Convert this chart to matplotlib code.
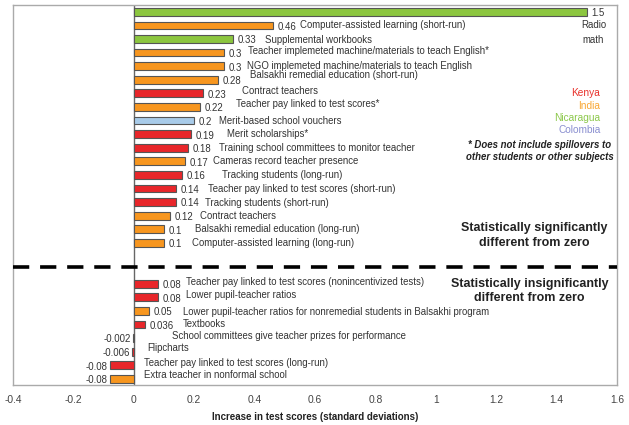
import matplotlib
matplotlib.use("Agg")
import matplotlib.pyplot as plt
import numpy as np

plt.rcParams['font.family'] = ['Liberation Sans', 'DejaVu Sans']

# ---- data ----
sig_programs = [
    "Radio math",
    "Computer-assisted learning (short-run)",
    "Supplemental workbooks",
    "Teacher implemeted machine/materials to teach English*",
    "NGO implemeted machine/materials to teach English",
    "Balsakhi remedial education (short-run)",
    "Contract teachers",
    "Teacher pay linked to test scores*",
    "Merit-based school vouchers",
    "Merit scholarships*",
    "Training school committees to monitor teacher",
    "Cameras record teacher presence",
    "Tracking students (long-run)",
    "Teacher pay linked to test scores (short-run)",
    "Tracking students (short-run)",
    "Contract teachers",
    "Balsakhi remedial education (long-run)",
    "Computer-assisted learning (long-run)",
]
sig_values = [1.5, 0.46, 0.33, 0.3, 0.3, 0.28, 0.23, 0.22, 0.2, 0.19, 0.18,
              0.17, 0.16, 0.14, 0.14, 0.12, 0.1, 0.1]
sig_value_labels = ["1.5", "0.46", "0.33", "0.3", "0.3", "0.28", "0.23", "0.22",
                    "0.2", "0.19", "0.18", "0.17", "0.16", "0.14", "0.14", "0.12",
                    "0.1", "0.1"]
sig_country = ["Nicaragua", "India", "Nicaragua", "India", "India", "India",
               "Kenya", "India", "Colombia", "Kenya", "Kenya", "India", "Kenya",
               "Kenya", "Kenya", "India", "India", "India"]

insig_programs = [
    "Teacher pay linked to test scores (nonincentivized tests)",
    "Lower pupil-teacher ratios",
    "Lower pupil-teacher ratios for nonremedial students in Balsakhi program",
    "Textbooks",
    "School committees give teacher prizes for performance",
    "Flipcharts",
    "Teacher pay linked to test scores (long-run)",
    "Extra teacher in nonformal school",
]
insig_values = [0.08, 0.08, 0.05, 0.036, -0.002, -0.006, -0.08, -0.08]
insig_value_labels = ["0.08", "0.08", "0.05", "0.036", "-0.002", "-0.006", "-0.08", "-0.08"]
insig_country = ["Kenya", "Kenya", "India", "Kenya", "Kenya", "Kenya", "Kenya", "India"]

countries = ["Kenya", "India", "Nicaragua", "Colombia"]
xticks = [-0.4, -0.2, 0, 0.2, 0.4, 0.6, 0.8, 1, 1.2, 1.4, 1.6]
xtick_labels = ["-0.4", "-0.2", "0", "0.2", "0.4", "0.6", "0.8", "1", "1.2", "1.4", "1.6"]

# ---- style ----
bar_colors = {"Kenya": "#e8262a", "India": "#f7961f", "Nicaragua": "#8cc63f",
              "Colombia": "#a8cbe9"}
text_colors = {"Kenya": "#e8302a", "India": "#f9a836", "Nicaragua": "#8cc84b",
               "Colombia": "#8a8fd0"}
# x where each description starts (data units), layout only
sig_desc_x = [None, 0.551, 0.435, 0.379, 0.375, 0.385, 0.359, 0.339, 0.282, 0.309,
              0.282, 0.262, 0.292, 0.246, 0.236, 0.219, 0.203, 0.193]
sig_desc_dy = [0, 0, 0.1, -0.15, 0, -0.35, -0.15, -0.25, 0, 0, 0, 0, 0, 0, 0.1, 0, 0, 0]
insig_desc_x = [0.173, 0.173, 0.163, 0.163, 0.126, 0.043, 0.033, 0.033]
insig_desc_dy = [-0.1, -0.15, 0.1, 0, -0.15, -0.3, -0.2, -0.25]

fig = plt.figure(figsize=(6.29, 4.25), dpi=100)
ax = fig.add_axes([13 / 629, 1 - 385 / 425, (617 - 13) / 629, (385 - 5) / 425])

sig_pos = np.arange(len(sig_values))
insig_pos = np.arange(len(insig_values)) + len(sig_values) + 2

fs = 6.9
edge = "#555555"
ax.barh(sig_pos, sig_values, height=0.57, color=[bar_colors[c] for c in sig_country],
        edgecolor=edge, linewidth=0.8, zorder=3)
ax.barh(insig_pos, insig_values, height=0.57,
        color=[bar_colors[c] for c in insig_country],
        edgecolor=edge, linewidth=0.8, zorder=3)

txt = "#333333"
for i, (v, lab) in enumerate(zip(sig_values, sig_value_labels)):
    ax.text(v + 0.015, sig_pos[i] + 0.1, lab, fontsize=fs, va="center", ha="left", color=txt)
    if sig_desc_x[i] is not None:
        ax.text(sig_desc_x[i], sig_pos[i] + sig_desc_dy[i], sig_programs[i], fontsize=fs,
                va="center", ha="left", color=txt)
# Radio math label
ax.text(1.522, (sig_pos[1] + sig_pos[2]) / 2, "Radio\nmath", fontsize=fs, ha="center",
        va="center", color=txt, linespacing=1.6)

for i, (v, lab) in enumerate(zip(insig_values, insig_value_labels)):
    y = insig_pos[i] + 0.1
    if v >= 0:
        ax.text(v + 0.015, y, lab, fontsize=fs, va="center", ha="left", color=txt)
    else:
        ax.text(v - 0.008, y, lab, fontsize=fs, va="center", ha="right", color=txt)
    ax.text(insig_desc_x[i], insig_pos[i] + insig_desc_dy[i], insig_programs[i],
            fontsize=fs, va="center", ha="left", color=txt)

# legend text
for k, c in enumerate(countries):
    ax.text(1.545, 6 + 0.9 * k, c, fontsize=fs + 0.4, ha="right", va="center",
            color=text_colors[c])

ax.text(1.345, 10.25, "* Does not include spillovers to\nother students or other subjects",
        fontsize=fs, ha="center", va="center", style="italic", weight="bold",
        color="#222222", linespacing=1.3)

ax.text(1.325, 16.45, "Statistically significantly\ndifferent from zero", fontsize=9,
        weight="bold", ha="center", va="center", color="#222222", linespacing=1.25)
ax.text(1.31, 20.55, "Statistically insignificantly\ndifferent from zero", fontsize=9,
        weight="bold", ha="center", va="center", color="#222222", linespacing=1.25)

# separator
ax.axhline(18.75, color="black", lw=2.6, dashes=(4.5, 3), zorder=4)
ax.axvline(0, color="#666666", lw=1.0, zorder=2)

ax.set_xlim(-0.4, 1.6)
ax.set_ylim(27.45, -0.5)
ax.set_yticks([])
ax.set_xticks(xticks)
ax.set_xticklabels(xtick_labels, fontsize=7.4, color="#444444")
ax.tick_params(axis="x", length=0, pad=7)
for s in ax.spines.values():
    s.set_color("#aaaaaa")
    s.set_linewidth(1.0)
ax.set_xlabel("Increase in test scores (standard deviations)", fontsize=7,
              weight="bold", color="#222222", labelpad=5)

fig.savefig("out.png", dpi=100)
